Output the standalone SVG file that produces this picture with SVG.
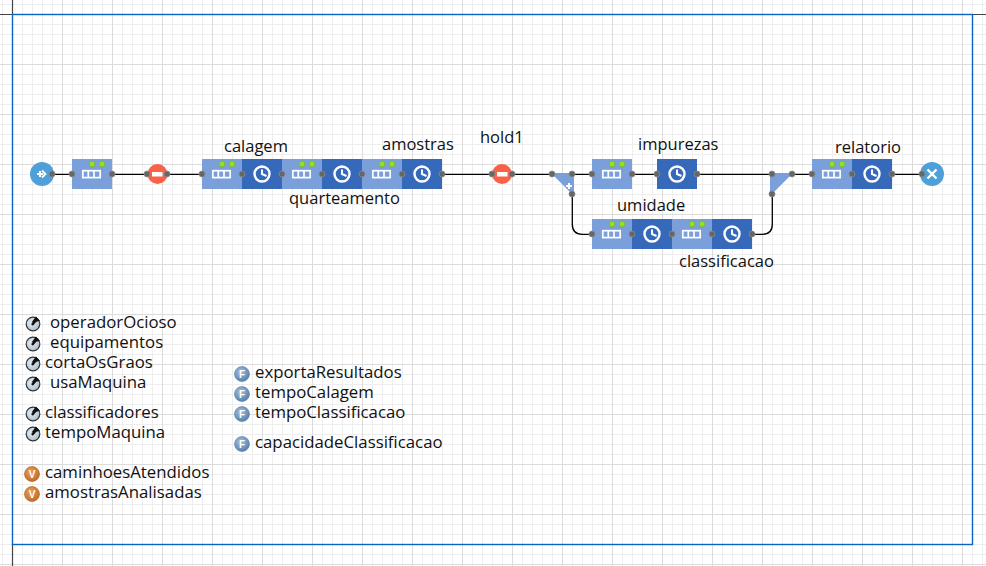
<svg xmlns="http://www.w3.org/2000/svg" width="986" height="566" viewBox="0 0 986 566">
<style>
text{font-family:"Open Sans","Noto Sans","Liberation Sans",sans-serif;font-size:16.8px;fill:#111}
.lb{font-size:16.5px}
.wire{fill:none;stroke:#000;stroke-width:1.3}
.port{fill:#666;stroke:#8a8a8a;stroke-width:.8}
.q{fill:#7a9fdb}.d{fill:#3669b9}
.ic{fill:none;stroke:#fff;stroke-width:1.700}
.ck{fill:none;stroke:#fff;stroke-width:2.400}
.hd{fill:none;stroke:#fff;stroke-width:2}
.led{fill:#92e21c;stroke:#6aa52a;stroke-width:.5}
.f{fill:url(#fg);stroke:#5d7fa5;stroke-width:.6}
.fl{font-family:"Liberation Sans",sans-serif;font-size:10px;font-weight:bold;fill:#fff}
.vv{fill:url(#vg);stroke:#a85e1e;stroke-width:.6}
.pm{fill:url(#pg);stroke:#333;stroke-width:1.2}
</style>
<defs>
<radialGradient id="fg" cx=".4" cy=".35" r=".7"><stop offset="0" stop-color="#a6c0dc"/><stop offset="1" stop-color="#4f7cab"/></radialGradient>
<radialGradient id="vg" cx=".4" cy=".35" r=".7"><stop offset="0" stop-color="#ec9d55"/><stop offset="1" stop-color="#bf6a22"/></radialGradient>
<radialGradient id="pg" cx=".4" cy=".4" r=".7"><stop offset="0" stop-color="#e6edf3"/><stop offset="1" stop-color="#a8bac9"/></radialGradient>
<pattern id="minor" width="10" height="10" patternUnits="userSpaceOnUse" patternTransform="translate(2 4)"><path d="M0 .5H10M.5 0V10" fill="none" stroke="#eeeeee" stroke-width="1"/></pattern>
<pattern id="major" width="50" height="50" patternUnits="userSpaceOnUse" patternTransform="translate(12 14)"><path d="M0 .5H50M.5 0V50" fill="none" stroke="#dcdcdc" stroke-width="1"/></pattern>
<g id="qi"><rect x="-9.200" y="-3.300" width="17.400" height="6.900" class="ic"/><path d="M-3.700 -3.300V3.600M2 -3.300V3.600" class="ic"/></g>
<g id="leds"><circle cx="-1" cy="0" r="2.900" class="led"/><circle cx="9" cy="0" r="2.900" class="led"/></g>
<g id="clk"><circle r="7.500" class="ck"/><path d="M0 -4.500V0L4.500 2" class="hd"/></g>
<g id="pin"><circle r="6.800" class="pm"/><path d="M-1.500 -1.500L3 -7.500L7 -3Z" fill="#111"/><path d="M-1 1L4 -5" stroke="#111" stroke-width="2.500"/></g>
<g id="fn"><circle r="7.500" class="f"/><text class="fl" x="0" y="3.700" text-anchor="middle">F</text></g>
<g id="vr"><circle r="7.500" class="vv"/><text class="fl" x="0" y="3.700" text-anchor="middle">V</text></g>
</defs>
<rect width="986" height="566" fill="#fff"/>
<rect width="986" height="566" fill="url(#minor)"/>
<rect width="986" height="566" fill="url(#major)"/>
<path d="M12.500 0V14.500H0M12.500 544V566M972 14.500H986" fill="none" stroke="#444" stroke-width="1.200"/>
<rect x="12.500" y="14.500" width="960" height="530" fill="none" stroke="#0a64c0" stroke-width="1.400"/>

<g id="connectors" transform="translate(.3 .3)">
<path class="wire" d="M52 174H72M112 174H147M167 174H202M442 174H492M512 174H552M572 174H592M632 174H657M697 174H772M792 174H812M892 174H922"/>
<path class="wire" d="M572 194V224Q572 234 582 234H592M752 234H762Q772 234 772 224V194"/>
</g>

<g id="source"><circle cx="42" cy="174" r="12" fill="#4fa0d8"/><path d="M42 170.500L45.500 174L42 177.500" fill="none" stroke="#fff" stroke-width="1.800"/><path d="M37 174H43M40 171V177" stroke="#fff" stroke-width="2"/><circle cx="52" cy="174" r="3" class="port"/></g>
<g id="queue0"><rect x="72" y="159" width="40" height="30" class="q"/><use href="#qi" x="92" y="174"/><use href="#leds" x="93" y="164"/><circle cx="72" cy="174" r="3" class="port"/><circle cx="112" cy="174" r="3" class="port"/></g>
<g id="hold0"><circle cx="157.500" cy="174" r="10" fill="#fb6148"/><rect x="152" y="172" width="10.500" height="4.500" fill="#fff"/><circle cx="147" cy="174" r="3" class="port"/><circle cx="167" cy="174" r="3" class="port"/></g>

<g id="calagem"><rect x="202" y="159" width="40" height="30" class="q"/><rect x="242" y="159" width="40" height="30" class="d"/><use href="#qi" x="222" y="174"/><use href="#leds" x="223" y="164"/><use href="#clk" x="262" y="174"/><circle cx="202" cy="174" r="3" class="port"/><circle cx="242" cy="174" r="3" class="port"/><text class="lb" x="224" y="152">calagem</text></g>
<g id="quarteamento"><rect x="282" y="159" width="40" height="30" class="q"/><rect x="322" y="159" width="40" height="30" class="d"/><use href="#qi" x="302" y="174"/><use href="#leds" x="303" y="164"/><use href="#clk" x="342" y="174"/><circle cx="282" cy="174" r="3" class="port"/><circle cx="322" cy="174" r="3" class="port"/><text class="lb" x="289" y="204">quarteamento</text></g>
<g id="amostras"><rect x="362" y="159" width="40" height="30" class="q"/><rect x="402" y="159" width="40" height="30" class="d"/><use href="#qi" x="382" y="174"/><use href="#leds" x="383" y="164"/><use href="#clk" x="422" y="174"/><circle cx="362" cy="174" r="3" class="port"/><circle cx="402" cy="174" r="3" class="port"/><circle cx="442" cy="174" r="3" class="port"/><text class="lb" x="382" y="150">amostras</text></g>
<g id="hold1"><circle cx="502" cy="174" r="10" fill="#fb6148"/><rect x="497" y="172" width="10.500" height="4.500" fill="#fff"/><circle cx="492" cy="174" r="3" class="port"/><circle cx="512" cy="174" r="3" class="port"/><text class="lb" x="480" y="143">hold1</text></g>
<g id="select1"><path d="M551 173H574V196Z" class="q"/><path d="M566 186H572M569 183V189" stroke="#fff" stroke-width="2"/><circle cx="552" cy="174" r="3" class="port"/><circle cx="572" cy="174" r="3" class="port"/><circle cx="572" cy="194" r="3" class="port"/></g>
<g id="impurezas"><rect x="592" y="159" width="40" height="30" class="q"/><use href="#qi" x="612" y="174"/><use href="#leds" x="613" y="164"/><circle cx="592" cy="174" r="3" class="port"/><circle cx="632" cy="174" r="3" class="port"/><rect x="657" y="159" width="40" height="30" class="d"/><use href="#clk" x="677" y="174"/><circle cx="657" cy="174" r="3" class="port"/><circle cx="697" cy="174" r="3" class="port"/><text class="lb" x="638" y="150">impurezas</text></g>
<g id="umidade"><rect x="592" y="219" width="40" height="30" class="q"/><rect x="632" y="219" width="40" height="30" class="d"/><use href="#qi" x="612" y="234"/><use href="#leds" x="613" y="224"/><use href="#clk" x="652" y="234"/><circle cx="592" cy="234" r="3" class="port"/><circle cx="632" cy="234" r="3" class="port"/><text class="lb" x="617" y="211">umidade</text></g>
<g id="classificacao"><rect x="672" y="219" width="40" height="30" class="q"/><rect x="712" y="219" width="40" height="30" class="d"/><use href="#qi" x="692" y="234"/><use href="#leds" x="693" y="224"/><use href="#clk" x="732" y="234"/><circle cx="672" cy="234" r="3" class="port"/><circle cx="712" cy="234" r="3" class="port"/><circle cx="752" cy="234" r="3" class="port"/><text class="lb" x="679" y="267">classificacao</text></g>
<g id="select2"><path d="M770 173H793L770 196Z" class="q"/><circle cx="772" cy="174" r="3" class="port"/><circle cx="792" cy="174" r="3" class="port"/><circle cx="772" cy="194" r="3" class="port"/></g>
<g id="relatorio"><rect x="812" y="159" width="40" height="30" class="q"/><rect x="852" y="159" width="40" height="30" class="d"/><use href="#qi" x="832" y="174"/><use href="#leds" x="833" y="164"/><use href="#clk" x="872" y="174"/><circle cx="812" cy="174" r="3" class="port"/><circle cx="852" cy="174" r="3" class="port"/><circle cx="892" cy="174" r="3" class="port"/><text class="lb" x="835" y="153">relatorio</text></g>
<g id="sink"><circle cx="932" cy="174" r="12" fill="#4fa0d8"/><path d="M927.500 169.500L936.500 178.500M936.500 169.500L927.500 178.500" stroke="#fff" stroke-width="2.400"/><circle cx="922" cy="174" r="3" class="port"/></g>

<g id="p-operadorOcioso"><use href="#pin" x="33" y="324"/><text x="50" y="328">operadorOcioso</text></g>
<g id="p-equipamentos"><use href="#pin" x="33" y="344"/><text x="50" y="348">equipamentos</text></g>
<g id="p-cortaOsGraos"><use href="#pin" x="33" y="364"/><text x="45" y="368">cortaOsGraos</text></g>
<g id="p-usaMaquina"><use href="#pin" x="33" y="384"/><text x="50" y="388">usaMaquina</text></g>
<g id="p-classificadores"><use href="#pin" x="33" y="414"/><text x="45" y="418">classificadores</text></g>
<g id="p-tempoMaquina"><use href="#pin" x="33" y="434"/><text x="45" y="438">tempoMaquina</text></g>
<g id="v-caminhoesAtendidos"><use href="#vr" x="32" y="474"/><text x="45" y="478">caminhoesAtendidos</text></g>
<g id="v-amostrasAnalisadas"><use href="#vr" x="32" y="494"/><text x="45" y="498">amostrasAnalisadas</text></g>
<g id="f-exportaResultados"><use href="#fn" x="242" y="374"/><text x="255" y="378">exportaResultados</text></g>
<g id="f-tempoCalagem"><use href="#fn" x="242" y="394"/><text x="255" y="398">tempoCalagem</text></g>
<g id="f-tempoClassificacao"><use href="#fn" x="242" y="414"/><text x="255" y="418">tempoClassificacao</text></g>
<g id="f-capacidadeClassificacao"><use href="#fn" x="242" y="444"/><text x="255" y="448">capacidadeClassificacao</text></g>
</svg>
